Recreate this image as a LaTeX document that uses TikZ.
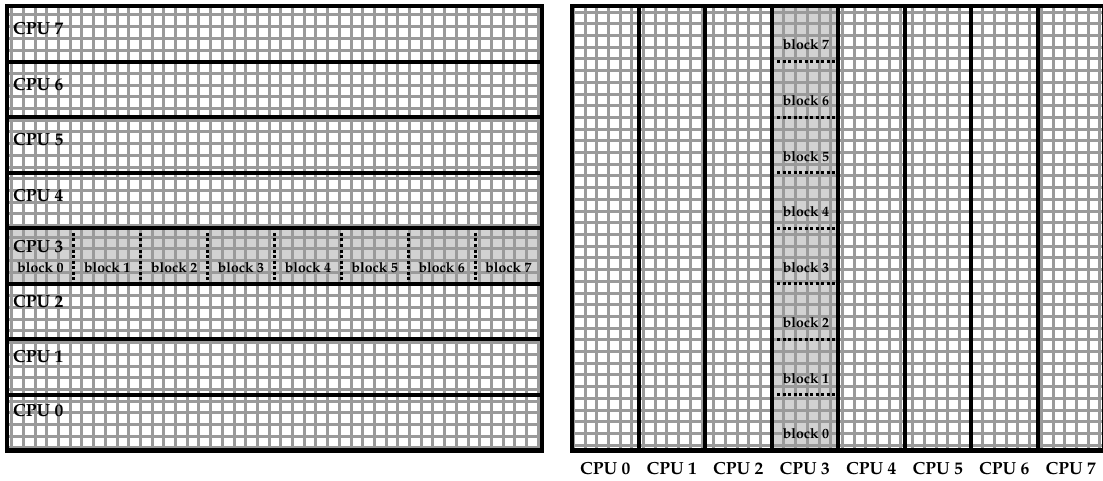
\documentclass[tikz,border=0pt]{standalone}
\usepackage[T1]{fontenc}
\usepackage{mathpazo}
\definecolor{gridgray}{HTML}{9A9A9A}
\definecolor{hlgray}{HTML}{D2D2D2}
\begin{document}
\begin{tikzpicture}[x=1pt,y=-1pt,
  gridline/.style={draw=gridgray,line width=3pt},
  border/.style={draw=black,line width=4.5pt},
  divider/.style={draw=black,line width=4pt},
  blockdiv/.style={draw=black,line width=3pt,dash pattern=on 3pt off 2.5pt},
  cpulabel/.style={font=\bfseries\fontsize{17.5}{18}\selectfont,inner sep=0pt},
  blocklabel/.style={font=\bfseries\fontsize{14}{14}\selectfont,inner sep=0pt},
  bottomlabel/.style={font=\bfseries\fontsize{17.5}{18}\selectfont,inner sep=0pt}]
\useasboundingbox (0,0) rectangle (1103,481);
\def\s{11.7}
% ---------- left panel ----------
\begin{scope}
  \clip (7,6) rectangle (542,450.5);
  \fill[white] (7,6) rectangle (542,450.5);
  \fill[hlgray] (7,228.2) rectangle (542,283.8);
  \foreach \k in {0,...,47} \draw[gridline] (\k*\s,0) -- (\k*\s,481);
  \foreach \k in {0,...,40} \draw[gridline] (0,\k*\s+3.3) -- (1103,\k*\s+3.3);
\end{scope}
\foreach \i in {1,...,7} \draw[divider] (7,6+\i*55.56) -- (542,6+\i*55.56);
\draw[border] (7,6) rectangle (542,450.5);
\foreach \i in {1,...,7} \draw[blockdiv] (7+\i*66.875,233) -- (7+\i*66.875,280);
\foreach \n/\y in {7/28,6/84,5/139,4/195,3/246,2/301,1/356,0/410}
  \node[cpulabel,anchor=west] (L\n) at (13,\y) {CPU \n};
\foreach \b in {0,...,7}
  \node[blocklabel] (LB\b) at (7+\b*66.875+33.44,268) {block \b};
% ---------- right panel ----------
\begin{scope}
  \clip (572,6) rectangle (1104,450.5);
  \fill[white] (572,6) rectangle (1104,450.5);
  \fill[hlgray] (771.5,6) rectangle (838,450.5);
  \foreach \k in {45,...,95} \draw[gridline] (\k*\s,0) -- (\k*\s,481);
  \foreach \k in {0,...,40} \draw[gridline] (0,\k*\s+0.5) -- (1103,\k*\s+0.5);
\end{scope}
\foreach \i in {1,...,7} \draw[divider] (572+\i*66.5,6) -- (572+\i*66.5,450.5);
\draw[border] (572,6) rectangle (1104.5,450.5);
\foreach \i in {1,...,7} \draw[blockdiv] (777,6+\i*55.56) -- (836,6+\i*55.56);
\foreach \b in {0,...,7}
  \node[blocklabel] (RB\b) at (806,6+7*55.56-\b*55.56+39) {block \b};
\foreach \n in {0,...,7}
  \node[bottomlabel] (B\n) at (572+\n*66.5+33.25,468) {CPU \n};
\end{tikzpicture}
\end{document}
